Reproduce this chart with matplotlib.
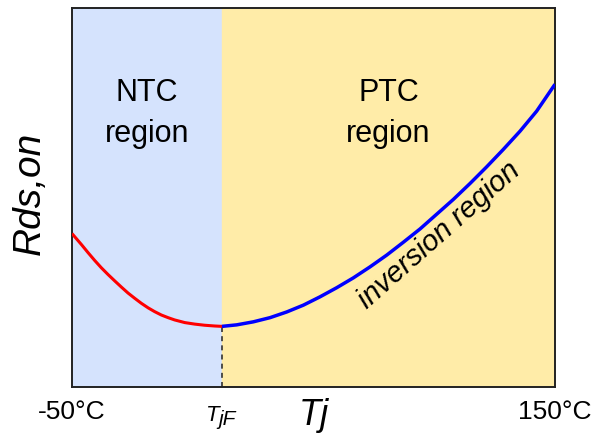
import matplotlib
matplotlib.use("Agg")
import matplotlib.pyplot as plt
from matplotlib.transforms import offset_copy

plt.rcParams['font.family'] = ['Liberation Sans', 'DejaVu Sans']

# Data (temperature in °C, normalised R_ds,on)
ntc_temp = [-50, -46.1, -43.4, -40.6, -37.9, -35.1, -32.3, -29.6, -26.8, -24.0, -21.3,
            -18.5, -15.8, -13.0, -10.2, -7.5, -3.3, 0.8, 4.9, 9.1, 12.1]
ntc_r = [0.405, 0.376, 0.355, 0.334, 0.315, 0.297, 0.280, 0.264, 0.248, 0.234, 0.221,
         0.209, 0.199, 0.190, 0.183, 0.177, 0.170, 0.166, 0.163, 0.161, 0.160]
ptc_temp = [12.1, 18.2, 25.1, 32.0, 38.9, 45.8, 52.7, 59.6, 66.5, 73.4, 80.3,
            87.2, 94.1, 101.0, 107.9, 114.8, 121.7, 128.6, 135.5, 142.4, 150]
ptc_r = [0.160, 0.164, 0.172, 0.183, 0.198, 0.216, 0.238, 0.262, 0.288, 0.317, 0.348,
         0.382, 0.417, 0.456, 0.495, 0.537, 0.581, 0.627, 0.675, 0.728, 0.799]
t_min, t_jf, t_max = -50, 12.1, 150
x_labels = ["-50°C", "150°C"]

fig = plt.figure(figsize=(5.93, 4.36), dpi=100)
ax = fig.add_axes([0.1214, 0.1124, 0.8145, 0.869])
ax.set_xlim(t_min, t_max)
ax.set_ylim(0, 1)

ax.axvspan(t_min, t_jf, color='#d5e3fd', zorder=0)
ax.axvspan(t_jf, t_max, color='#ffeca8', zorder=0)

ax.plot(ntc_temp, ntc_r, color='#ff0000', lw=2.2, solid_capstyle='butt',
        solid_joinstyle='round', zorder=3)
ax.plot(ptc_temp, ptc_r, color='#0000ff', lw=2.5, solid_capstyle='butt',
        solid_joinstyle='round', zorder=3)
ax.plot([t_jf, t_jf], [0, ntc_r[-1]], color='#333333', lw=1.2, ls=(0, (3, 2.5)), zorder=2)

for s in ax.spines.values():
    s.set_linewidth(1.4)
    s.set_color('#222222')
ax.set_xticks([])
ax.set_yticks([])

for xc, word in [((t_min + t_jf) / 2, "NTC"), ((t_jf + t_max) / 2, "PTC")]:
    ax.text(xc, 0.755, word, ha='center', va='baseline', fontsize=22)
    ax.text(xc, 0.647, "region", ha='center', va='baseline', fontsize=22)
ax.text(102, 0.40, "inversion region", ha='center', va='center', fontsize=21,
        style='italic', rotation=41.5, rotation_mode='anchor')

ax.text(t_min, -0.065, x_labels[0], ha='center', va='center', fontsize=19)
ax.text(t_max, -0.065, x_labels[1], ha='center', va='center', fontsize=19)

# T_jF label: "T" with lowered "jF"
ax.text(t_jf - 1.0, -0.09, "T", ha='right', va='baseline', fontsize=16, style='italic')
ax.text(t_jf - 1.4, -0.09, "jF", ha='left', va='baseline', fontsize=15, style='italic',
        transform=offset_copy(ax.transData, fig=fig, x=0, y=-4, units='dots'))
ax.text(50, -0.075, "Tj", ha='center', va='center', fontsize=26, style='italic')
ax.text(-0.087, 0.512, "Rds,on", transform=ax.transAxes, ha='center', va='center',
        fontsize=28, style='italic', rotation=90)

fig.savefig("out.png", dpi=100)
